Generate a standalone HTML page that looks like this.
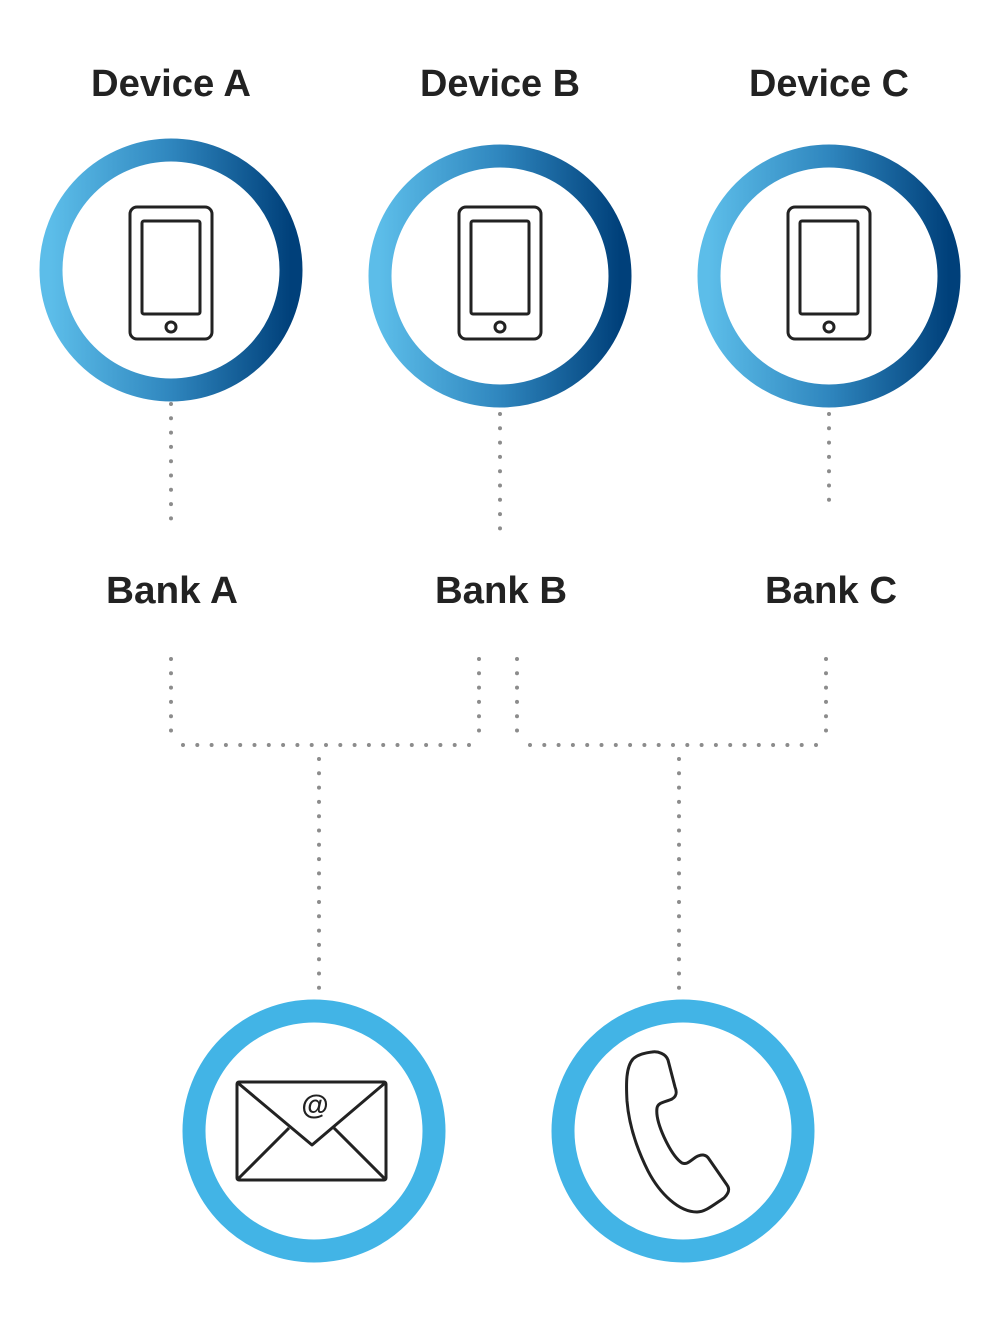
<!DOCTYPE html>
<html><head><meta charset="utf-8"><style>
html,body{margin:0;padding:0;background:#fff;}
svg{display:block;}
text{font-family:"Liberation Sans",sans-serif;font-weight:bold;fill:#222;font-size:38px;}
</style></head><body>
<svg width="1000" height="1321" viewBox="0 0 1000 1321" xmlns="http://www.w3.org/2000/svg">
<defs>
<linearGradient id="g" x1="0" y1="0" x2="1" y2="0">
<stop offset="0" stop-color="#5cbde9"/><stop offset="0.5" stop-color="#2f86be"/><stop offset="1" stop-color="#00407a"/>
</linearGradient>
<g id="phone" fill="none" stroke="#222" stroke-width="3">
<rect x="-41" y="-63" width="82" height="132" rx="7"/>
<rect x="-29" y="-49" width="58" height="93" rx="2"/>
<circle cx="0" cy="57" r="5"/>
</g>
</defs>
<text x="171" y="96" text-anchor="middle" textLength="160" lengthAdjust="spacingAndGlyphs">Device A</text>
<text x="500" y="96" text-anchor="middle" textLength="160" lengthAdjust="spacingAndGlyphs">Device B</text>
<text x="829" y="96" text-anchor="middle" textLength="160" lengthAdjust="spacingAndGlyphs">Device C</text>
<text x="172" y="603" text-anchor="middle" textLength="132" lengthAdjust="spacingAndGlyphs">Bank A</text>
<text x="501" y="603" text-anchor="middle" textLength="132" lengthAdjust="spacingAndGlyphs">Bank B</text>
<text x="831" y="603" text-anchor="middle" textLength="132" lengthAdjust="spacingAndGlyphs">Bank C</text>

<circle cx="171" cy="270" r="120" fill="none" stroke="url(#g)" stroke-width="23"/>
<circle cx="500" cy="276" r="120" fill="none" stroke="url(#g)" stroke-width="23"/>
<circle cx="829" cy="276" r="120" fill="none" stroke="url(#g)" stroke-width="23"/>
<use href="#phone" x="171" y="270"/>
<use href="#phone" x="500" y="270"/>
<use href="#phone" x="829" y="270"/>

<g stroke="#8c8c8c" stroke-width="4" stroke-linecap="round" stroke-dasharray="0 14.3" fill="none">
<path d="M171 404V532"/><path d="M500 414V532"/><path d="M829 414V504"/>
<path d="M171 659V740"/><path d="M479 659V740"/><path d="M183 745H472"/><path d="M319 759V1002"/>
<path d="M517 659V740"/><path d="M826 659V740"/><path d="M530 745H818"/><path d="M679 759V1002"/>
</g>

<circle cx="314" cy="1131" r="120" fill="none" stroke="#42b4e6" stroke-width="23"/>
<circle cx="683" cy="1131" r="120" fill="none" stroke="#42b4e6" stroke-width="23"/>
<g fill="none" stroke="#222" stroke-width="3" stroke-linejoin="round">
<rect x="237" y="1082" width="149" height="98" rx="2"/>
<path d="M238 1083L312 1145L385 1083"/>
<path d="M238 1179L289 1128M385 1179L334 1128"/>
<path d="M652 1052C644 1053 637 1055 633 1059C626 1067 626 1083 627 1101C629 1126 638 1151 648 1171C660 1194 679 1212 697 1212C705 1212 712 1206 724 1198C729 1193 730 1189 727 1185L709 1159C706 1154 701 1154 696 1157C690 1161 687 1165 682 1163C676 1159 670 1150 664 1137C659 1126 656 1115 657 1108C658 1102 666 1102 672 1099C677 1096 677 1092 675 1087L668 1060C666 1054 658 1051 652 1052Z"/>
</g>
<text x="315" y="1114" text-anchor="middle" style="font-size:28px">@</text>
</svg>
</body></html>
